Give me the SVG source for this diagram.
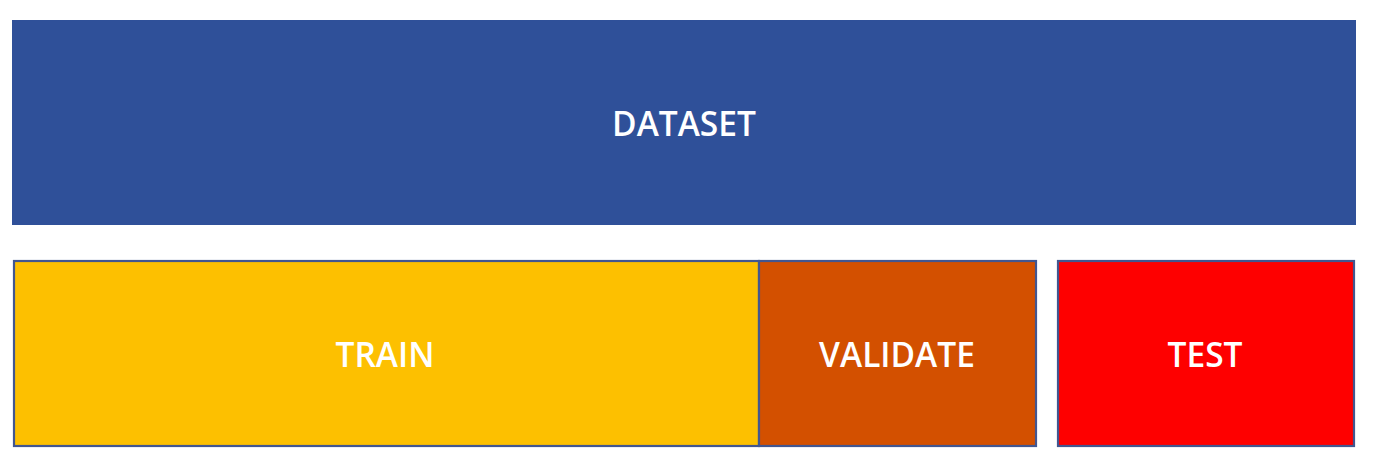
<svg xmlns="http://www.w3.org/2000/svg" width="1374" height="459" viewBox="0 0 1374 459">
<style>
.lbl{font-family:"Open Sans","Liberation Sans",sans-serif;font-weight:600;font-size:33.5px;fill:#ffffff;text-anchor:middle}
.box{stroke:#42568f;stroke-width:2.2}
</style>
<rect width="1374" height="459" fill="#ffffff"/>
<g id="dataset">
<rect x="12" y="20" width="1344" height="205" fill="#2f5099"/>
<text class="lbl" x="684" y="136">DATASET</text>
</g>
<g id="train">
<rect class="box" x="14" y="261" width="745" height="185" fill="#fdc000"/>
<text class="lbl" x="385" y="367">TRAIN</text>
</g>
<g id="validate">
<rect class="box" x="759" y="261" width="277" height="185" fill="#d35000"/>
<text class="lbl" x="897" y="367">VALIDATE</text>
</g>
<g id="test">
<rect class="box" x="1058" y="261" width="296" height="185" fill="#fe0000"/>
<text class="lbl" x="1205" y="367">TEST</text>
</g>
<g id="connectors"/>
</svg>
